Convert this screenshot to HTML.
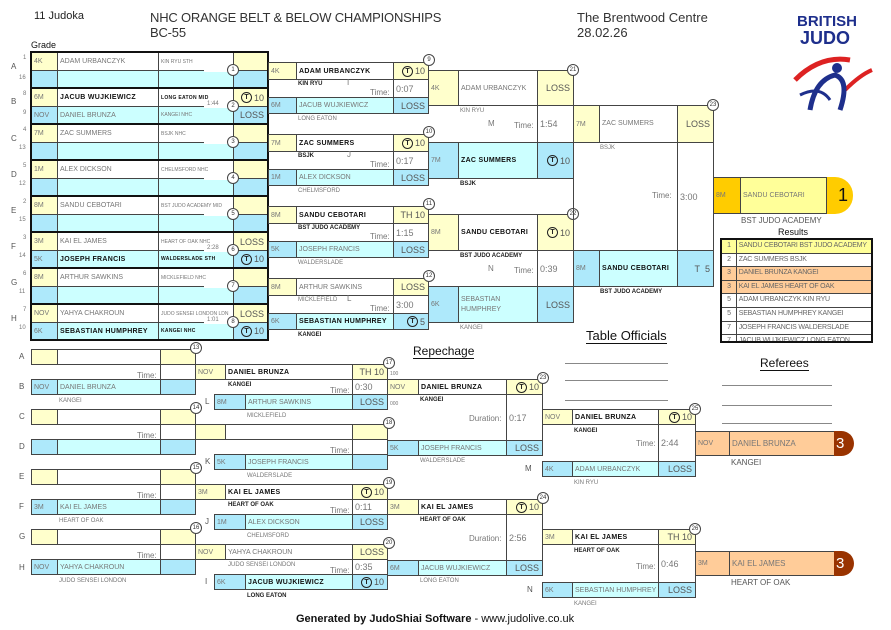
<!DOCTYPE html>
<html><head><meta charset="utf-8"><style>
body{margin:0;width:891px;height:630px;background:#fff;position:relative;overflow:hidden;font-family:"Liberation Sans",sans-serif}
.c{position:absolute;box-sizing:border-box;border:1px solid #444;font-size:7px;color:#777;white-space:nowrap;overflow:hidden;padding-left:2px;display:flex;align-items:center}
.y{background:#ffffcc}.cy{background:#ccffff}.bl{background:#aee9fb}.w{background:#fff}
.bd{color:#111;font-weight:bold;letter-spacing:.3px}
.r{justify-content:flex-end;padding-right:3px;font-size:9px;color:#555}
.t{position:absolute;font-size:6px;color:#777;white-space:nowrap}
.tb{position:absolute;font-size:6px;color:#222;font-weight:bold;white-space:nowrap}
.n{position:absolute;width:10px;height:10px;border:1px solid #444;border-radius:50%;background:#fff;font-size:6px;text-align:center;line-height:10px;color:#333}
.l{position:absolute;font-size:8px;color:#555}
.tm{position:absolute;font-size:8px;color:#777}
.thick{position:absolute;box-sizing:border-box;border:2px solid #111}
.ln{position:absolute;background:#444}
.T{display:inline-block;width:9px;height:9px;border:1px solid #222;border-radius:50%;font-size:7px;line-height:9px;text-align:center;color:#222;margin-right:2px;font-weight:bold}
.rs{height:12.6px;border-bottom:1px solid #444;display:flex;white-space:nowrap;overflow:hidden;line-height:12px;letter-spacing:-.2px}
.rs span{width:14px;flex:none;border-right:1px solid #444;text-align:center}
</style></head><body>
<div style="position:absolute;left:34px;top:10px;font-size:11px;color:#222">11 Judoka</div>
<div style="position:absolute;left:150px;top:10px;font-size:13px;color:#333;line-height:15px;letter-spacing:-.2px">NHC ORANGE BELT &amp; BELOW CHAMPIONSHIPS<br>BC-55</div>
<div style="position:absolute;left:577px;top:10px;font-size:13px;color:#333;line-height:15px">The Brentwood Centre<br>28.02.26</div>
<div style="position:absolute;left:797px;top:13px;font-size:15px;font-weight:bold;color:#1e2f8c;line-height:17px">BRITISH<br><span style="font-size:18px;margin-left:3px">JUDO</span></div>
<svg style="position:absolute;left:790px;top:50px" width="85" height="70"><path d="M5 30 Q30 5 60 10" stroke="#d22" stroke-width="5" fill="none"/><path d="M55 40 Q70 25 82 20" stroke="#d22" stroke-width="4" fill="none"/><path d="M20 60 Q25 30 45 25 Q60 30 50 60" stroke="#1e2f8c" stroke-width="5" fill="none"/><circle cx="47" cy="18" r="5" fill="#1e2f8c"/><path d="M10 45 Q30 35 40 50" stroke="#1e2f8c" stroke-width="3" fill="none"/></svg>
<div style="position:absolute;left:31px;top:40px;font-size:9px;color:#111">Grade</div>

<!-- Round 1 -->
<div class="l" style="left:11px;top:62px">A</div><div class="t" style="left:23px;top:55px">1</div><div class="t" style="left:19px;top:75px">16</div>
<div class="l" style="left:11px;top:97px">B</div><div class="t" style="left:23px;top:91px">8</div><div class="t" style="left:23px;top:110px">9</div>
<div class="l" style="left:11px;top:134px">C</div><div class="t" style="left:23px;top:127px">4</div><div class="t" style="left:19px;top:145px">13</div>
<div class="l" style="left:11px;top:170px">D</div><div class="t" style="left:23px;top:163px">5</div><div class="t" style="left:19px;top:181px">12</div>
<div class="l" style="left:11px;top:206px">E</div><div class="t" style="left:23px;top:199px">2</div><div class="t" style="left:19px;top:217px">15</div>
<div class="l" style="left:11px;top:242px">F</div><div class="t" style="left:23px;top:235px">3</div><div class="t" style="left:19px;top:253px">14</div>
<div class="l" style="left:11px;top:278px">G</div><div class="t" style="left:23px;top:271px">6</div><div class="t" style="left:19px;top:289px">11</div>
<div class="l" style="left:11px;top:314px">H</div><div class="t" style="left:23px;top:307px">7</div><div class="t" style="left:19px;top:325px">10</div>

<div class="c y" style="left:31px;top:52px;width:27px;height:19px">4K</div><div class="c w" style="left:57px;top:52px;width:102px;height:19px">ADAM URBANCZYK</div><div class="c w" style="left:158px;top:52px;width:76px;height:19px;font-size:5px">KIN RYU STH</div><div class="c y" style="left:233px;top:52px;width:35px;height:19px"></div>
<div class="c bl" style="left:31px;top:70px;width:27px;height:18px"></div><div class="c cy" style="left:57px;top:70px;width:102px;height:18px"></div><div class="c cy" style="left:158px;top:70px;width:76px;height:18px"></div><div class="c bl" style="left:233px;top:70px;width:35px;height:18px"></div>

<div class="c y" style="left:31px;top:88px;width:27px;height:19px">6M</div><div class="c w bd" style="left:57px;top:88px;width:102px;height:19px">JACUB WUJKIEWICZ</div><div class="c w bd" style="left:158px;top:88px;width:76px;height:19px;font-size:5px">LONG EATON MID</div><div class="c y r" style="left:233px;top:88px;width:35px;height:19px"><span class="T">T</span>10</div>
<div class="c bl" style="left:31px;top:106px;width:27px;height:18px">NOV</div><div class="c cy" style="left:57px;top:106px;width:102px;height:18px">DANIEL BRUNZA</div><div class="c cy" style="left:158px;top:106px;width:76px;height:18px;font-size:5px">KANGEI NHC</div><div class="c bl r" style="left:233px;top:106px;width:35px;height:18px">LOSS</div>

<div class="c y" style="left:31px;top:124px;width:27px;height:19px">7M</div><div class="c w" style="left:57px;top:124px;width:102px;height:19px">ZAC SUMMERS</div><div class="c w" style="left:158px;top:124px;width:76px;height:19px;font-size:5px">BSJK NHC</div><div class="c y" style="left:233px;top:124px;width:35px;height:19px"></div>
<div class="c bl" style="left:31px;top:142px;width:27px;height:18px"></div><div class="c cy" style="left:57px;top:142px;width:102px;height:18px"></div><div class="c cy" style="left:158px;top:142px;width:76px;height:18px"></div><div class="c bl" style="left:233px;top:142px;width:35px;height:18px"></div>

<div class="c y" style="left:31px;top:160px;width:27px;height:19px">1M</div><div class="c w" style="left:57px;top:160px;width:102px;height:19px">ALEX DICKSON</div><div class="c w" style="left:158px;top:160px;width:76px;height:19px;font-size:5px">CHELMSFORD NHC</div><div class="c y" style="left:233px;top:160px;width:35px;height:19px"></div>
<div class="c bl" style="left:31px;top:178px;width:27px;height:18px"></div><div class="c cy" style="left:57px;top:178px;width:102px;height:18px"></div><div class="c cy" style="left:158px;top:178px;width:76px;height:18px"></div><div class="c bl" style="left:233px;top:178px;width:35px;height:18px"></div>

<div class="c y" style="left:31px;top:196px;width:27px;height:19px">8M</div><div class="c w" style="left:57px;top:196px;width:102px;height:19px">SANDU CEBOTARI</div><div class="c w" style="left:158px;top:196px;width:76px;height:19px;font-size:5px">BST JUDO ACADEMY MID</div><div class="c y" style="left:233px;top:196px;width:35px;height:19px"></div>
<div class="c bl" style="left:31px;top:214px;width:27px;height:18px"></div><div class="c cy" style="left:57px;top:214px;width:102px;height:18px"></div><div class="c cy" style="left:158px;top:214px;width:76px;height:18px"></div><div class="c bl" style="left:233px;top:214px;width:35px;height:18px"></div>

<div class="c y" style="left:31px;top:232px;width:27px;height:19px">3M</div><div class="c w" style="left:57px;top:232px;width:102px;height:19px">KAI EL JAMES</div><div class="c w" style="left:158px;top:232px;width:76px;height:19px;font-size:5px">HEART OF OAK NHC</div><div class="c y r" style="left:233px;top:232px;width:35px;height:19px">LOSS</div>
<div class="c bl" style="left:31px;top:250px;width:27px;height:18px">5K</div><div class="c cy bd" style="left:57px;top:250px;width:102px;height:18px">JOSEPH FRANCIS</div><div class="c cy bd" style="left:158px;top:250px;width:76px;height:18px;font-size:5px">WALDERSLADE STH</div><div class="c bl r" style="left:233px;top:250px;width:35px;height:18px"><span class="T">T</span>10</div>

<div class="c y" style="left:31px;top:268px;width:27px;height:19px">8M</div><div class="c w" style="left:57px;top:268px;width:102px;height:19px">ARTHUR SAWKINS</div><div class="c w" style="left:158px;top:268px;width:76px;height:19px;font-size:5px">MICKLEFIELD NHC</div><div class="c y" style="left:233px;top:268px;width:35px;height:19px"></div>
<div class="c bl" style="left:31px;top:286px;width:27px;height:18px"></div><div class="c cy" style="left:57px;top:286px;width:102px;height:18px"></div><div class="c cy" style="left:158px;top:286px;width:76px;height:18px"></div><div class="c bl" style="left:233px;top:286px;width:35px;height:18px"></div>

<div class="c y" style="left:31px;top:304px;width:27px;height:19px">NOV</div><div class="c w" style="left:57px;top:304px;width:102px;height:19px">YAHYA CHAKROUN</div><div class="c w" style="left:158px;top:304px;width:76px;height:19px;font-size:5px">JUDO SENSEI LONDON LDN</div><div class="c y r" style="left:233px;top:304px;width:35px;height:19px">LOSS</div>
<div class="c bl" style="left:31px;top:322px;width:27px;height:18px">6K</div><div class="c cy bd" style="left:57px;top:322px;width:102px;height:18px">SEBASTIAN HUMPHREY</div><div class="c cy bd" style="left:158px;top:322px;width:76px;height:18px;font-size:5px">KANGEI NHC</div><div class="c bl r" style="left:233px;top:322px;width:35px;height:18px"><span class="T">T</span>10</div>

<div class="thick" style="left:30px;top:51px;width:239px;height:38px"></div>
<div class="thick" style="left:30px;top:87px;width:239px;height:38px"></div>
<div class="thick" style="left:30px;top:123px;width:239px;height:38px"></div>
<div class="thick" style="left:30px;top:159px;width:239px;height:38px"></div>
<div class="thick" style="left:30px;top:195px;width:239px;height:38px"></div>
<div class="thick" style="left:30px;top:231px;width:239px;height:38px"></div>
<div class="thick" style="left:30px;top:267px;width:239px;height:38px"></div>
<div class="thick" style="left:30px;top:303px;width:239px;height:38px"></div>
<div style="position:absolute;left:204px;top:65px;width:29px;height:7px;background:#fff"></div>
<div style="position:absolute;left:204px;top:101px;width:29px;height:7px;background:#fff"></div><div class="t" style="left:207px;top:101px">1:44</div>
<div style="position:absolute;left:204px;top:137px;width:29px;height:7px;background:#fff"></div>
<div style="position:absolute;left:204px;top:173px;width:29px;height:7px;background:#fff"></div>
<div style="position:absolute;left:204px;top:209px;width:29px;height:7px;background:#fff"></div>
<div style="position:absolute;left:204px;top:245px;width:29px;height:7px;background:#fff"></div><div class="t" style="left:207px;top:245px">2:28</div>
<div style="position:absolute;left:204px;top:281px;width:29px;height:7px;background:#fff"></div>
<div style="position:absolute;left:204px;top:317px;width:29px;height:7px;background:#fff"></div><div class="t" style="left:207px;top:317px">1:01</div>
<div class="n" style="left:227px;top:64px">1</div><div class="n" style="left:227px;top:100px">2</div><div class="n" style="left:227px;top:136px">3</div><div class="n" style="left:227px;top:172px">4</div><div class="n" style="left:227px;top:208px">5</div><div class="n" style="left:227px;top:244px">6</div><div class="n" style="left:227px;top:280px">7</div><div class="n" style="left:227px;top:316px">8</div>

<!-- Round 2 -->
<div class="c y" style="left:268px;top:62px;width:29px;height:18px">4K</div><div class="c w bd" style="left:296px;top:62px;width:98px;height:18px">ADAM URBANCZYK</div><div class="c y r" style="left:393px;top:62px;width:36px;height:18px"><span class="T">T</span>10</div>
<div class="c w" style="left:393px;top:79px;width:36px;height:19px;font-size:9px">0:07</div>
<div class="tb" style="left:298px;top:81px">KIN RYU</div><div class="tm" style="left:347px;top:78px">I</div><div class="tm" style="left:370px;top:88px">Time:</div>
<div class="c bl" style="left:268px;top:97px;width:29px;height:17px">6M</div><div class="c cy" style="left:296px;top:97px;width:98px;height:17px">JACUB WUJKIEWICZ</div><div class="c bl r" style="left:393px;top:97px;width:36px;height:17px">LOSS</div>
<div class="t" style="left:298px;top:116px">LONG EATON</div>
<div class="n" style="left:423px;top:54px">9</div>

<div class="c y" style="left:268px;top:134px;width:29px;height:18px">7M</div><div class="c w bd" style="left:296px;top:134px;width:98px;height:18px">ZAC SUMMERS</div><div class="c y r" style="left:393px;top:134px;width:36px;height:18px"><span class="T">T</span>10</div>
<div class="c w" style="left:393px;top:151px;width:36px;height:19px;font-size:9px">0:17</div>
<div class="tb" style="left:298px;top:153px">BSJK</div><div class="tm" style="left:347px;top:150px">J</div><div class="tm" style="left:370px;top:160px">Time:</div>
<div class="c bl" style="left:268px;top:169px;width:29px;height:17px">1M</div><div class="c cy" style="left:296px;top:169px;width:98px;height:17px">ALEX DICKSON</div><div class="c bl r" style="left:393px;top:169px;width:36px;height:17px">LOSS</div>
<div class="t" style="left:298px;top:188px">CHELMSFORD</div>
<div class="n" style="left:423px;top:126px">10</div>

<div class="c y" style="left:268px;top:206px;width:29px;height:18px">8M</div><div class="c w bd" style="left:296px;top:206px;width:98px;height:18px">SANDU CEBOTARI</div><div class="c y r" style="left:393px;top:206px;width:36px;height:18px">TH 10</div>
<div class="c w" style="left:393px;top:223px;width:36px;height:19px;font-size:9px">1:15</div>
<div class="tb" style="left:298px;top:225px">BST JUDO ACADEMY</div><div class="tm" style="left:347px;top:222px">K</div><div class="tm" style="left:370px;top:232px">Time:</div>
<div class="c bl" style="left:268px;top:241px;width:29px;height:17px">5K</div><div class="c cy" style="left:296px;top:241px;width:98px;height:17px">JOSEPH FRANCIS</div><div class="c bl r" style="left:393px;top:241px;width:36px;height:17px">LOSS</div>
<div class="t" style="left:298px;top:260px">WALDERSLADE</div>
<div class="n" style="left:423px;top:198px">11</div>

<div class="c y" style="left:268px;top:278px;width:29px;height:18px">8M</div><div class="c w" style="left:296px;top:278px;width:98px;height:18px">ARTHUR SAWKINS</div><div class="c y r" style="left:393px;top:278px;width:36px;height:18px">LOSS</div>
<div class="c w" style="left:393px;top:295px;width:36px;height:19px;font-size:9px">3:00</div>
<div class="t" style="left:298px;top:297px">MICKLEFIELD</div><div class="tm" style="left:347px;top:294px">L</div><div class="tm" style="left:370px;top:304px">Time:</div>
<div class="c bl" style="left:268px;top:313px;width:29px;height:17px">6K</div><div class="c cy bd" style="left:296px;top:313px;width:98px;height:17px">SEBASTIAN HUMPHREY</div><div class="c bl r" style="left:393px;top:313px;width:36px;height:17px"><span class="T">T</span>5</div>
<div class="tb" style="left:298px;top:332px">KANGEI</div>
<div class="n" style="left:423px;top:270px">12</div>

<!-- Round 3 -->
<div class="c y" style="left:428px;top:70px;width:31px;height:36px">4K</div><div class="c w" style="left:458px;top:70px;width:80px;height:36px;white-space:normal;line-height:9px">ADAM URBANCZYK</div><div class="c y r" style="left:537px;top:70px;width:37px;height:36px">LOSS</div>
<div class="c w" style="left:537px;top:105px;width:37px;height:38px;font-size:9px">1:54</div>
<div class="t" style="left:460px;top:108px">KIN RYU</div><div class="tm" style="left:488px;top:119px">M</div><div class="tm" style="left:514px;top:121px">Time:</div>
<div class="c bl" style="left:428px;top:142px;width:31px;height:37px">7M</div><div class="c cy bd" style="left:458px;top:142px;width:80px;height:37px;white-space:normal;line-height:10px">ZAC SUMMERS</div><div class="c bl r" style="left:537px;top:142px;width:37px;height:37px"><span class="T">T</span>10</div>
<div class="tb" style="left:460px;top:181px">BSJK</div>
<div class="n" style="left:567px;top:64px">21</div>

<div class="c y" style="left:428px;top:214px;width:31px;height:37px">8M</div><div class="c w bd" style="left:458px;top:214px;width:80px;height:37px;white-space:normal;line-height:10px">SANDU CEBOTARI</div><div class="c y r" style="left:537px;top:214px;width:37px;height:37px"><span class="T">T</span>10</div>
<div class="c w" style="left:537px;top:250px;width:37px;height:37px;font-size:9px">0:39</div>
<div class="tb" style="left:460px;top:253px">BST JUDO ACADEMY</div><div class="tm" style="left:488px;top:264px">N</div><div class="tm" style="left:514px;top:266px">Time:</div>
<div class="c bl" style="left:428px;top:286px;width:31px;height:37px">6K</div><div class="c cy" style="left:458px;top:286px;width:80px;height:37px;white-space:normal;line-height:10px">SEBASTIAN HUMPHREY</div><div class="c bl r" style="left:537px;top:286px;width:37px;height:37px">LOSS</div>
<div class="t" style="left:460px;top:325px">KANGEI</div>
<div class="n" style="left:567px;top:208px">22</div>

<!-- Final -->
<div class="c y" style="left:573px;top:105px;width:27px;height:38px">7M</div><div class="c w" style="left:599px;top:105px;width:79px;height:38px;white-space:normal;line-height:10px">ZAC SUMMERS</div><div class="c y r" style="left:677px;top:105px;width:37px;height:38px">LOSS</div>
<div class="t" style="left:600px;top:145px">BSJK</div>
<div class="c w" style="left:677px;top:142px;width:37px;height:109px;font-size:9px">3:00</div><div class="tm" style="left:652px;top:191px">Time:</div>
<div class="ln" style="left:573px;top:142px;width:1px;height:109px"></div>
<div class="c bl" style="left:573px;top:250px;width:27px;height:37px">8M</div><div class="c cy bd" style="left:599px;top:250px;width:79px;height:37px;white-space:normal;line-height:10px">SANDU CEBOTARI</div><div class="c bl r" style="left:677px;top:250px;width:37px;height:37px">T&nbsp; 5</div>
<div class="tb" style="left:600px;top:289px">BST JUDO ACADEMY</div>
<div class="n" style="left:707px;top:99px">23</div>

<div style="position:absolute;left:826px;top:177px;width:27px;height:37px;background:#ffcc00;border-radius:0 18px 18px 0"></div>
<div style="position:absolute;left:838px;top:185px;font-size:18px;color:#111">1</div>
<div class="c" style="left:713px;top:177px;width:28px;height:37px;background:#ffcc00">8M</div><div class="c" style="left:740px;top:177px;width:87px;height:37px;background:#ffff99;white-space:normal;line-height:10px">SANDU CEBOTARI</div>
<div style="position:absolute;left:741px;top:216px;font-size:8px;color:#555">BST JUDO ACADEMY</div>
<div style="position:absolute;left:778px;top:227px;font-size:9px;color:#111">Results</div>
<div style="position:absolute;left:720px;top:238px;width:153px;height:105px;border:2px solid #111;box-sizing:border-box;font-size:7px;color:#666;overflow:hidden">
<div class="rs" style="background:#ffff99"><span>1</span>&nbsp;SANDU CEBOTARI BST JUDO ACADEMY</div>
<div class="rs"><span>2</span>&nbsp;ZAC SUMMERS BSJK</div>
<div class="rs" style="background:#ffcc99"><span>3</span>&nbsp;DANIEL BRUNZA KANGEI</div>
<div class="rs" style="background:#ffcc99"><span>3</span>&nbsp;KAI EL JAMES HEART OF OAK</div>
<div class="rs"><span>5</span>&nbsp;ADAM URBANCZYK KIN RYU</div>
<div class="rs"><span>5</span>&nbsp;SEBASTIAN HUMPHREY KANGEI</div>
<div class="rs"><span>7</span>&nbsp;JOSEPH FRANCIS WALDERSLADE</div>
<div class="rs" style="border-bottom:none"><span>7</span>&nbsp;JACUB WUJKIEWICZ LONG EATON</div>
</div>

<div style="position:absolute;left:586px;top:328px;font-size:13px;color:#111;border-bottom:1px solid #111">Table Officials</div>
<div style="position:absolute;left:760px;top:356px;font-size:12px;color:#111;border-bottom:1px solid #111">Referees</div>
<div style="position:absolute;left:413px;top:344px;font-size:12px;color:#111;border-bottom:1px solid #111;line-height:14px">Repechage</div>
<div class="ln" style="left:565px;top:363px;width:103px;height:1px;background:#888"></div>
<div class="ln" style="left:565px;top:380px;width:103px;height:1px;background:#888"></div>
<div class="ln" style="left:565px;top:400px;width:103px;height:1px;background:#888"></div>
<div class="ln" style="left:722px;top:385px;width:110px;height:1px;background:#888"></div>
<div class="ln" style="left:722px;top:405px;width:110px;height:1px;background:#888"></div>
<div class="ln" style="left:722px;top:423px;width:110px;height:1px;background:#888"></div>

<!-- Repechage first column -->
<div class="l" style="left:19px;top:352px">A</div><div class="l" style="left:19px;top:382px">B</div>
<div class="l" style="left:19px;top:412px">C</div><div class="l" style="left:19px;top:442px">D</div>
<div class="l" style="left:19px;top:472px">E</div><div class="l" style="left:19px;top:502px">F</div>
<div class="l" style="left:19px;top:532px">G</div><div class="l" style="left:19px;top:563px">H</div>

<div class="c y" style="left:31px;top:349px;width:27px;height:16px"></div><div class="c w" style="left:57px;top:349px;width:104px;height:16px"></div><div class="c y" style="left:160px;top:349px;width:36px;height:16px"></div>
<div class="c w" style="left:160px;top:364px;width:36px;height:16px"></div><div class="tm" style="left:137px;top:371px">Time:</div>
<div class="c bl" style="left:31px;top:379px;width:27px;height:16px">NOV</div><div class="c cy" style="left:57px;top:379px;width:104px;height:16px">DANIEL BRUNZA</div><div class="c bl" style="left:160px;top:379px;width:36px;height:16px"></div>
<div class="t" style="left:59px;top:398px">KANGEI</div><div class="n" style="left:190px;top:342px">13</div>

<div class="c y" style="left:31px;top:409px;width:27px;height:16px"></div><div class="c w" style="left:57px;top:409px;width:104px;height:16px"></div><div class="c y" style="left:160px;top:409px;width:36px;height:16px"></div>
<div class="c w" style="left:160px;top:424px;width:36px;height:16px"></div><div class="tm" style="left:137px;top:431px">Time:</div>
<div class="c bl" style="left:31px;top:439px;width:27px;height:16px"></div><div class="c cy" style="left:57px;top:439px;width:104px;height:16px"></div><div class="c bl" style="left:160px;top:439px;width:36px;height:16px"></div>
<div class="n" style="left:190px;top:402px">14</div>

<div class="c y" style="left:31px;top:469px;width:27px;height:16px"></div><div class="c w" style="left:57px;top:469px;width:104px;height:16px"></div><div class="c y" style="left:160px;top:469px;width:36px;height:16px"></div>
<div class="c w" style="left:160px;top:484px;width:36px;height:16px"></div><div class="tm" style="left:137px;top:491px">Time:</div>
<div class="c bl" style="left:31px;top:499px;width:27px;height:16px">3M</div><div class="c cy" style="left:57px;top:499px;width:104px;height:16px">KAI EL JAMES</div><div class="c bl" style="left:160px;top:499px;width:36px;height:16px"></div>
<div class="t" style="left:59px;top:518px">HEART OF OAK</div><div class="n" style="left:190px;top:462px">15</div>

<div class="c y" style="left:31px;top:529px;width:27px;height:16px"></div><div class="c w" style="left:57px;top:529px;width:104px;height:16px"></div><div class="c y" style="left:160px;top:529px;width:36px;height:16px"></div>
<div class="c w" style="left:160px;top:544px;width:36px;height:16px"></div><div class="tm" style="left:137px;top:551px">Time:</div>
<div class="c bl" style="left:31px;top:559px;width:27px;height:16px">NOV</div><div class="c cy" style="left:57px;top:559px;width:104px;height:16px">YAHYA CHAKROUN</div><div class="c bl" style="left:160px;top:559px;width:36px;height:16px"></div>
<div class="t" style="left:59px;top:578px">JUDO SENSEI LONDON</div><div class="n" style="left:190px;top:522px">16</div>

<!-- Repechage 2nd column -->
<div class="c y" style="left:195px;top:364px;width:31px;height:16px">NOV</div><div class="c w bd" style="left:225px;top:364px;width:128px;height:16px">DANIEL BRUNZA</div><div class="c y r" style="left:352px;top:364px;width:36px;height:16px">TH 10</div>
<div class="c w" style="left:352px;top:379px;width:36px;height:16px;font-size:9px">0:30</div><div class="tb" style="left:228px;top:382px">KANGEI</div><div class="tm" style="left:330px;top:386px">Time:</div>
<div class="l" style="left:205px;top:397px">L</div>
<div class="c bl" style="left:214px;top:394px;width:32px;height:16px">8M</div><div class="c cy" style="left:245px;top:394px;width:108px;height:16px">ARTHUR SAWKINS</div><div class="c bl r" style="left:352px;top:394px;width:36px;height:16px">LOSS</div>
<div class="t" style="left:247px;top:413px">MICKLEFIELD</div><div class="n" style="left:383px;top:357px">17</div>
<div class="t" style="left:390px;top:371px;font-size:5px">100</div><div class="t" style="left:390px;top:401px;font-size:5px">000</div>

<div class="c y" style="left:195px;top:424px;width:31px;height:16px"></div><div class="c w" style="left:225px;top:424px;width:128px;height:16px"></div><div class="c y" style="left:352px;top:424px;width:36px;height:16px"></div>
<div class="c w" style="left:352px;top:439px;width:36px;height:16px"></div><div class="tm" style="left:330px;top:446px">Time:</div>
<div class="l" style="left:205px;top:457px">K</div>
<div class="c bl" style="left:214px;top:454px;width:32px;height:16px">5K</div><div class="c cy" style="left:245px;top:454px;width:108px;height:16px">JOSEPH FRANCIS</div><div class="c bl" style="left:352px;top:454px;width:36px;height:16px"></div>
<div class="t" style="left:247px;top:473px">WALDERSLADE</div><div class="n" style="left:383px;top:417px">18</div>

<div class="c y" style="left:195px;top:484px;width:31px;height:16px">3M</div><div class="c w bd" style="left:225px;top:484px;width:128px;height:16px">KAI EL JAMES</div><div class="c y r" style="left:352px;top:484px;width:36px;height:16px"><span class="T">T</span>10</div>
<div class="c w" style="left:352px;top:499px;width:36px;height:16px;font-size:9px">0:11</div><div class="tb" style="left:228px;top:502px">HEART OF OAK</div><div class="tm" style="left:330px;top:506px">Time:</div>
<div class="l" style="left:205px;top:517px">J</div>
<div class="c bl" style="left:214px;top:514px;width:32px;height:16px">1M</div><div class="c cy" style="left:245px;top:514px;width:108px;height:16px">ALEX DICKSON</div><div class="c bl r" style="left:352px;top:514px;width:36px;height:16px">LOSS</div>
<div class="t" style="left:247px;top:533px">CHELMSFORD</div><div class="n" style="left:383px;top:477px">19</div>

<div class="c y" style="left:195px;top:544px;width:31px;height:16px">NOV</div><div class="c w" style="left:225px;top:544px;width:128px;height:16px">YAHYA CHAKROUN</div><div class="c y r" style="left:352px;top:544px;width:36px;height:16px">LOSS</div>
<div class="c w" style="left:352px;top:559px;width:36px;height:16px;font-size:9px">0:35</div><div class="t" style="left:228px;top:562px">JUDO SENSEI LONDON</div><div class="tm" style="left:330px;top:566px">Time:</div>
<div class="l" style="left:205px;top:577px">I</div>
<div class="c bl" style="left:214px;top:574px;width:32px;height:16px">6K</div><div class="c cy bd" style="left:245px;top:574px;width:108px;height:16px">JACUB WUJKIEWICZ</div><div class="c bl r" style="left:352px;top:574px;width:36px;height:16px"><span class="T">T</span>10</div>
<div class="tb" style="left:247px;top:593px">LONG EATON</div><div class="n" style="left:383px;top:537px">20</div>

<!-- 23, 24 -->
<div class="c y" style="left:387px;top:379px;width:32px;height:16px">NOV</div><div class="c w bd" style="left:418px;top:379px;width:89px;height:16px">DANIEL BRUNZA</div><div class="c y r" style="left:506px;top:379px;width:37px;height:16px"><span class="T">T</span>10</div>
<div class="c w" style="left:506px;top:394px;width:37px;height:47px;font-size:9px">0:17</div><div class="tb" style="left:420px;top:397px">KANGEI</div><div class="tm" style="left:469px;top:414px">Duration:</div>
<div class="c bl" style="left:387px;top:440px;width:32px;height:16px">5K</div><div class="c cy" style="left:418px;top:440px;width:89px;height:16px">JOSEPH FRANCIS</div><div class="c bl r" style="left:506px;top:440px;width:37px;height:16px">LOSS</div>
<div class="t" style="left:420px;top:458px">WALDERSLADE</div><div class="n" style="left:537px;top:372px">23</div>

<div class="c y" style="left:387px;top:499px;width:32px;height:16px">3M</div><div class="c w bd" style="left:418px;top:499px;width:89px;height:16px">KAI EL JAMES</div><div class="c y r" style="left:506px;top:499px;width:37px;height:16px"><span class="T">T</span>10</div>
<div class="c w" style="left:506px;top:514px;width:37px;height:47px;font-size:9px">2:56</div><div class="tb" style="left:420px;top:517px">HEART OF OAK</div><div class="tm" style="left:469px;top:534px">Duration:</div>
<div class="c bl" style="left:387px;top:560px;width:32px;height:16px">6M</div><div class="c cy" style="left:418px;top:560px;width:89px;height:16px">JACUB WUJKIEWICZ</div><div class="c bl r" style="left:506px;top:560px;width:37px;height:16px">LOSS</div>
<div class="t" style="left:420px;top:578px">LONG EATON</div><div class="n" style="left:537px;top:492px">24</div>

<!-- 25, 26 -->
<div class="c y" style="left:542px;top:409px;width:31px;height:16px">NOV</div><div class="c w bd" style="left:572px;top:409px;width:87px;height:16px">DANIEL BRUNZA</div><div class="c y r" style="left:658px;top:409px;width:38px;height:16px"><span class="T">T</span>10</div>
<div class="c w" style="left:658px;top:424px;width:38px;height:38px;font-size:9px">2:44</div><div class="tb" style="left:574px;top:428px">KANGEI</div><div class="tm" style="left:636px;top:439px">Time:</div>
<div class="l" style="left:525px;top:464px">M</div>
<div class="c bl" style="left:542px;top:461px;width:31px;height:16px">4K</div><div class="c cy" style="left:572px;top:461px;width:87px;height:16px">ADAM URBANCZYK</div><div class="c bl r" style="left:658px;top:461px;width:38px;height:16px">LOSS</div>
<div class="t" style="left:574px;top:480px">KIN RYU</div><div class="n" style="left:689px;top:403px">25</div>

<div class="c y" style="left:542px;top:529px;width:31px;height:16px">3M</div><div class="c w bd" style="left:572px;top:529px;width:87px;height:16px">KAI EL JAMES</div><div class="c y r" style="left:658px;top:529px;width:38px;height:16px">TH 10</div>
<div class="c w" style="left:658px;top:544px;width:38px;height:39px;font-size:9px">0:46</div><div class="tb" style="left:574px;top:548px">HEART OF OAK</div><div class="tm" style="left:636px;top:562px">Time:</div>
<div class="l" style="left:527px;top:585px">N</div>
<div class="c bl" style="left:542px;top:582px;width:31px;height:16px">6K</div><div class="c cy" style="left:572px;top:582px;width:87px;height:16px">SEBASTIAN HUMPHREY</div><div class="c bl r" style="left:658px;top:582px;width:38px;height:16px">LOSS</div>
<div class="t" style="left:574px;top:601px">KANGEI</div><div class="n" style="left:689px;top:523px">26</div>

<!-- bronze -->
<div class="c" style="left:695px;top:431px;width:35px;height:25px;background:#ffcc99">NOV</div><div class="c" style="left:729px;top:431px;width:106px;height:25px;background:#ffcc99;font-size:8px">DANIEL BRUNZA</div>
<div style="position:absolute;left:834px;top:431px;width:20px;height:25px;background:#993300;border-radius:0 13px 13px 0;color:#fff;font-size:15px;line-height:25px;padding-left:2px;box-sizing:border-box">3</div>
<div style="position:absolute;left:731px;top:458px;font-size:8px;color:#555">KANGEI</div>
<div class="c" style="left:695px;top:551px;width:35px;height:25px;background:#ffcc99">3M</div><div class="c" style="left:729px;top:551px;width:106px;height:25px;background:#ffcc99;font-size:8px">KAI EL JAMES</div>
<div style="position:absolute;left:834px;top:551px;width:20px;height:25px;background:#993300;border-radius:0 13px 13px 0;color:#fff;font-size:15px;line-height:25px;padding-left:2px;box-sizing:border-box">3</div>
<div style="position:absolute;left:731px;top:578px;font-size:8px;color:#555">HEART OF OAK</div>

<div style="position:absolute;left:296px;top:613px;font-size:11px;color:#111"><b>Generated by JudoShiai Software</b> - www.judolive.co.uk</div>
</body></html>
